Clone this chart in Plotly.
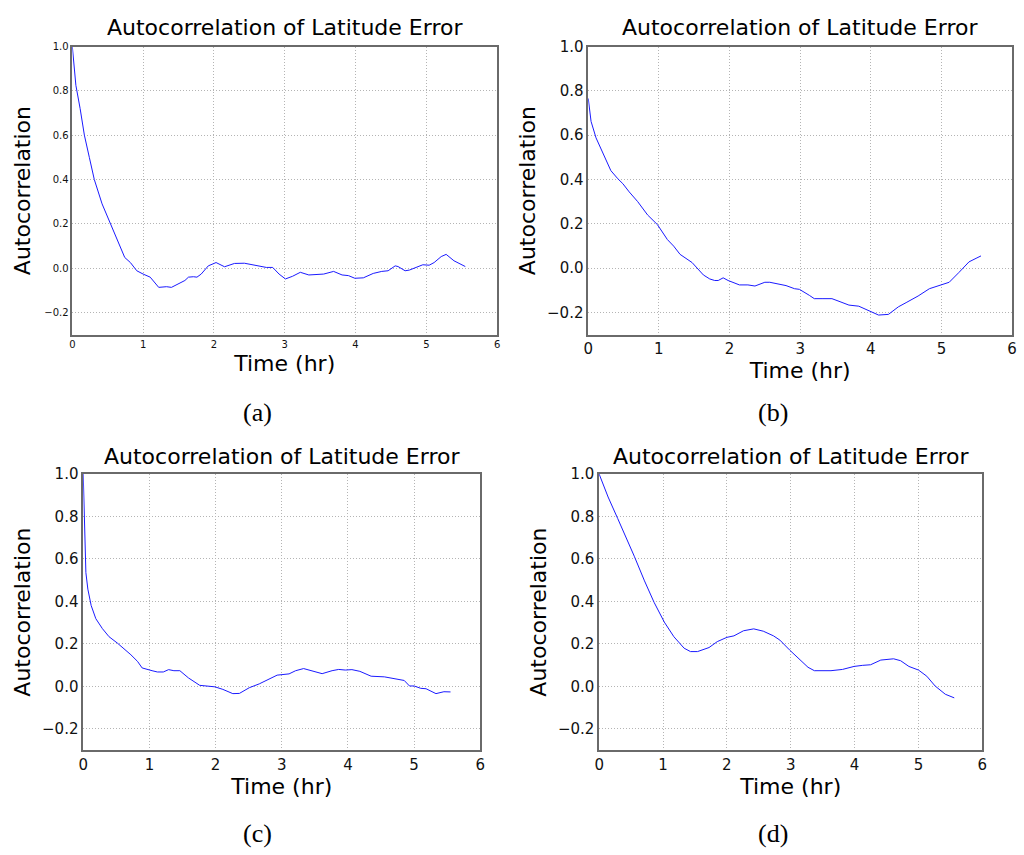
import plotly.graph_objects as go

# ---------------- data ----------------
t_a = [0.00, 0.05, 0.11, 0.17, 0.24, 0.31, 0.42, 0.54, 0.63, 0.74, 0.82, 0.91, 1.00, 1.10,
       1.22, 1.33, 1.40, 1.59, 1.64, 1.71, 1.76, 1.82, 1.92, 2.03, 2.15, 2.29, 2.43, 2.60,
       2.74, 2.83, 2.92, 3.01, 3.11, 3.22, 3.34, 3.55, 3.69, 3.81, 3.90, 3.99, 4.11, 4.25,
       4.37, 4.46, 4.56, 4.60, 4.70, 4.76, 4.88, 4.95, 5.04, 5.11, 5.21, 5.28, 5.39, 5.55]
r_a = [1.000, 0.825, 0.720, 0.600, 0.500, 0.400, 0.290, 0.200, 0.130, 0.048, 0.025, -0.012,
       -0.027, -0.041, -0.087, -0.084, -0.087, -0.056, -0.041, -0.039, -0.041, -0.027, 0.010,
       0.025, 0.006, 0.021, 0.022, 0.013, 0.003, 0.003, -0.027, -0.049, -0.037, -0.019,
       -0.031, -0.027, -0.015, -0.031, -0.034, -0.046, -0.044, -0.024, -0.015, -0.012, 0.010,
       0.007, -0.012, -0.009, 0.007, 0.015, 0.013, 0.025, 0.052, 0.062, 0.033, 0.007]

t_b = [0.00, 0.04, 0.11, 0.23, 0.32, 0.42, 0.49, 0.58, 0.70, 0.84, 0.98, 1.12, 1.21, 1.30,
       1.47, 1.63, 1.72, 1.79, 1.84, 1.91, 1.98, 2.14, 2.26, 2.36, 2.50, 2.57, 2.66, 2.80,
       2.92, 2.99, 3.13, 3.20, 3.31, 3.45, 3.55, 3.69, 3.83, 3.97, 4.11, 4.25, 4.39, 4.50,
       4.67, 4.83, 5.00, 5.11, 5.25, 5.39, 5.49, 5.56]
r_b = [0.766, 0.662, 0.588, 0.500, 0.440, 0.403, 0.381, 0.344, 0.300, 0.240, 0.196, 0.129,
       0.099, 0.062, 0.025, -0.031, -0.049, -0.056, -0.056, -0.044, -0.056, -0.076, -0.076,
       -0.081, -0.064, -0.064, -0.071, -0.079, -0.093, -0.096, -0.123, -0.138, -0.138,
       -0.138, -0.150, -0.167, -0.172, -0.193, -0.212, -0.209, -0.175, -0.156, -0.126,
       -0.093, -0.074, -0.064, -0.019, 0.028, 0.044, 0.055]

t_c = [0.00, 0.02, 0.04, 0.07, 0.12, 0.19, 0.29, 0.39, 0.52, 0.72, 0.82, 0.89, 0.97, 1.04,
       1.12, 1.21, 1.29, 1.37, 1.46, 1.59, 1.76, 1.99, 2.11, 2.26, 2.36, 2.51, 2.66, 2.81,
       2.93, 3.11, 3.21, 3.33, 3.46, 3.61, 3.76, 3.86, 3.96, 4.06, 4.18, 4.35, 4.55, 4.73,
       4.85, 4.93, 5.00, 5.10, 5.18, 5.33, 5.45, 5.55]
r_c = [1.000, 0.720, 0.536, 0.458, 0.381, 0.319, 0.272, 0.234, 0.203, 0.149, 0.118, 0.087,
       0.079, 0.074, 0.068, 0.068, 0.079, 0.074, 0.074, 0.040, 0.005, -0.002, -0.014, -0.034,
       -0.033, -0.006, 0.012, 0.037, 0.053, 0.059, 0.074, 0.084, 0.074, 0.060, 0.074, 0.080,
       0.077, 0.079, 0.071, 0.048, 0.045, 0.036, 0.028, 0.002, 0.002, -0.009, -0.011,
       -0.034, -0.025, -0.026]

t_d = [0.00, 0.14, 0.29, 0.42, 0.55, 0.71, 0.86, 1.02, 1.17, 1.33, 1.43, 1.54, 1.72, 1.85,
       2.00, 2.11, 2.26, 2.42, 2.57, 2.73, 2.83, 2.98, 3.14, 3.27, 3.37, 3.50, 3.63, 3.81,
       3.99, 4.12, 4.25, 4.41, 4.61, 4.72, 4.85, 5.00, 5.13, 5.26, 5.42, 5.56]
r_d = [1.000, 0.892, 0.791, 0.706, 0.613, 0.497, 0.396, 0.303, 0.234, 0.180, 0.164, 0.164,
       0.183, 0.211, 0.231, 0.238, 0.262, 0.271, 0.260, 0.238, 0.218, 0.172, 0.125, 0.090,
       0.074, 0.073, 0.074, 0.080, 0.094, 0.099, 0.102, 0.124, 0.130, 0.121, 0.094, 0.077,
       0.048, 0.002, -0.037, -0.054]

panel_title = "Autocorrelation of Latitude Error"
x_label = "Time (hr)"
y_label = "Autocorrelation"
captions = ["(a)", "(b)", "(c)", "(d)"]
x_ticks = [0, 1, 2, 3, 4, 5, 6]
y_ticks = [-0.2, 0.0, 0.2, 0.4, 0.6, 0.8, 1.0]

# ---------------- layout geometry ----------------
W, H = 1024, 855
# plot-area pixel boxes: (left, right, top, bottom)
boxes = [(68, 497, 38, 329), (589, 1017, 38, 329), (79, 480, 470, 749), (600, 987, 470, 749)]
tick_sizes = [10, 15, 15, 15]
title_y = [19, 19, 452, 452]
caption_pos = [(255, 408), (776, 408), (255, 833), (776, 833)]
x_standoff = [6, 2, 2, 2]
y_standoff = [8, 5, 5, 5]

series = [(t_a, r_a), (t_b, r_b), (t_c, r_c), (t_d, r_d)]

fig = go.Figure()
FONT = "DejaVu Sans"

for i, ((t, r), (l, rt, tp, bt)) in enumerate(zip(series, boxes)):
    n = "" if i == 0 else str(i + 1)
    fig.add_trace(go.Scatter(x=t, y=r, mode="lines", line=dict(color="#1a1aff", width=1),
                             xaxis="x" + n, yaxis="y" + n, showlegend=False, hoverinfo="skip"))
    common = dict(showline=True, mirror=True, linecolor="#6a6a6a", linewidth=1.5,
                  showgrid=True, gridcolor="#b4b4b4", gridwidth=1, griddash="1px,2px",
                  zeroline=False, ticks="", color="#111111",
                  tickfont=dict(family=FONT, size=tick_sizes[i], color="#111111"))
    xa = dict(common, domain=[l / W, rt / W], range=[0, 6], tickvals=x_ticks,
              anchor="y" + n,
              title=dict(text=x_label, font=dict(family=FONT, size=22, color="#000"),
                         standoff=x_standoff[i]))
    ya = dict(common, domain=[1 - bt / H, 1 - tp / H], range=[-0.3, 1.0], tickvals=y_ticks,
              tickformat=".1f", anchor="x" + n,
              title=dict(text=y_label, font=dict(family=FONT, size=22, color="#000"),
                         standoff=y_standoff[i]))
    fig.layout["xaxis" + n] = xa
    fig.layout["yaxis" + n] = ya
    fig.add_annotation(text=panel_title, x=(l + rt) / 2 / W, y=1 - title_y[i] / H,
                       xref="paper", yref="paper", xanchor="center", yanchor="middle",
                       showarrow=False, font=dict(family=FONT, size=22, color="#000"))
    cx, cy = caption_pos[i]
    fig.add_annotation(text=captions[i], x=cx / W, y=1 - cy / H, xref="paper", yref="paper",
                       xanchor="center", yanchor="middle", showarrow=False,
                       font=dict(family="Liberation Serif", size=26, color="#000"))

fig.update_layout(width=W, height=H, margin=dict(l=0, r=0, t=0, b=0),
                  paper_bgcolor="white", plot_bgcolor="white",
                  font=dict(family=FONT))

fig.write_html("out.html")
